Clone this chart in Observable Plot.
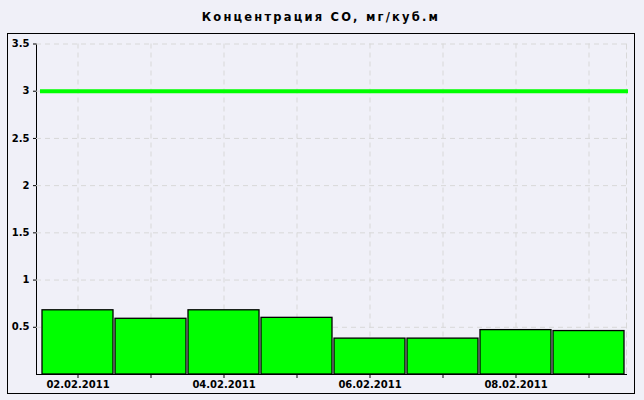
<!DOCTYPE html>
<html>
<head>
<meta charset="utf-8">
<script src="https://cdn.jsdelivr.net/npm/d3@7"></script>
<script src="https://cdn.jsdelivr.net/npm/@observablehq/plot@0.6"></script>
<style>
  html, body { margin: 0; padding: 0; background: #f0f0f8; }
  body { width: 644px; height: 400px; position: relative; overflow: hidden; }
  #title {
    position: absolute; left: -1px; top: 10px; width: 644px; text-align: center;
    font-family: "DejaVu Sans", sans-serif; font-weight: bold; font-size: 11.5px;
    letter-spacing: 2.2px; color: #000;
  }
  #box {
    position: absolute; left: 7px; top: 33px; width: 628px; height: 361px;
    box-sizing: border-box; border: 1px solid #000;
  }
  #chart { position: absolute; left: 0; top: 0; }
</style>
</head>
<body>
<div id="title">Концентрация СО, мг/куб.м</div>
<div id="box"></div>
<div id="chart"></div>
<script>
const dates = ["02.02.2011","03.02.2011","04.02.2011","05.02.2011","06.02.2011","07.02.2011","08.02.2011","09.02.2011"];
const values = [0.68, 0.59, 0.68, 0.60, 0.38, 0.38, 0.47, 0.46];
const limit = [3];
const yTicks = [0.5, 1, 1.5, 2, 2.5, 3, 3.5];
const labeledDates = ["02.02.2011","04.02.2011","06.02.2011","08.02.2011"];

const data = dates.map((d, i) => ({date: d, value: values[i]}));
const grid = "#d8d8d8";

const chart = Plot.plot({
  width: 644,
  height: 400,
  marginLeft: 36,
  marginRight: 18,
  marginTop: 43.5,
  marginBottom: 26,
  style: {background: "transparent", fontFamily: "DejaVu Sans, sans-serif", fontWeight: "bold", fontSize: "10px", color: "#000"},
  x: {type: "band", domain: dates, range: [40, 626], paddingInner: 0.028, paddingOuter: 0.015,
      label: null, line: true, tickSize: 4, tickPadding: 2,
      tickFormat: d => labeledDates.includes(d) ? d : ""},
  y: {domain: [0, 3.5], ticks: yTicks, label: null, line: true, tickSize: 3, tickPadding: 4,
      tickFormat: d => String(d)},
  marks: [
    Plot.ruleY(yTicks, {stroke: grid, strokeDasharray: "5,4", strokeOpacity: 1}),
    Plot.gridX({stroke: grid, strokeDasharray: "5,4", strokeOpacity: 1}),
    Plot.frame({anchor: "right", stroke: grid, strokeDasharray: "5,4"}),
    Plot.barY(data, {x: "date", y: "value", fill: "#00ff00", stroke: "#000", strokeWidth: 1.3}),
    Plot.ruleY(limit, {stroke: "#00ff00", strokeWidth: 4, insetLeft: 4, insetRight: -2})
  ]
});
document.getElementById("chart").appendChild(chart);
</script>
</body>
</html>
